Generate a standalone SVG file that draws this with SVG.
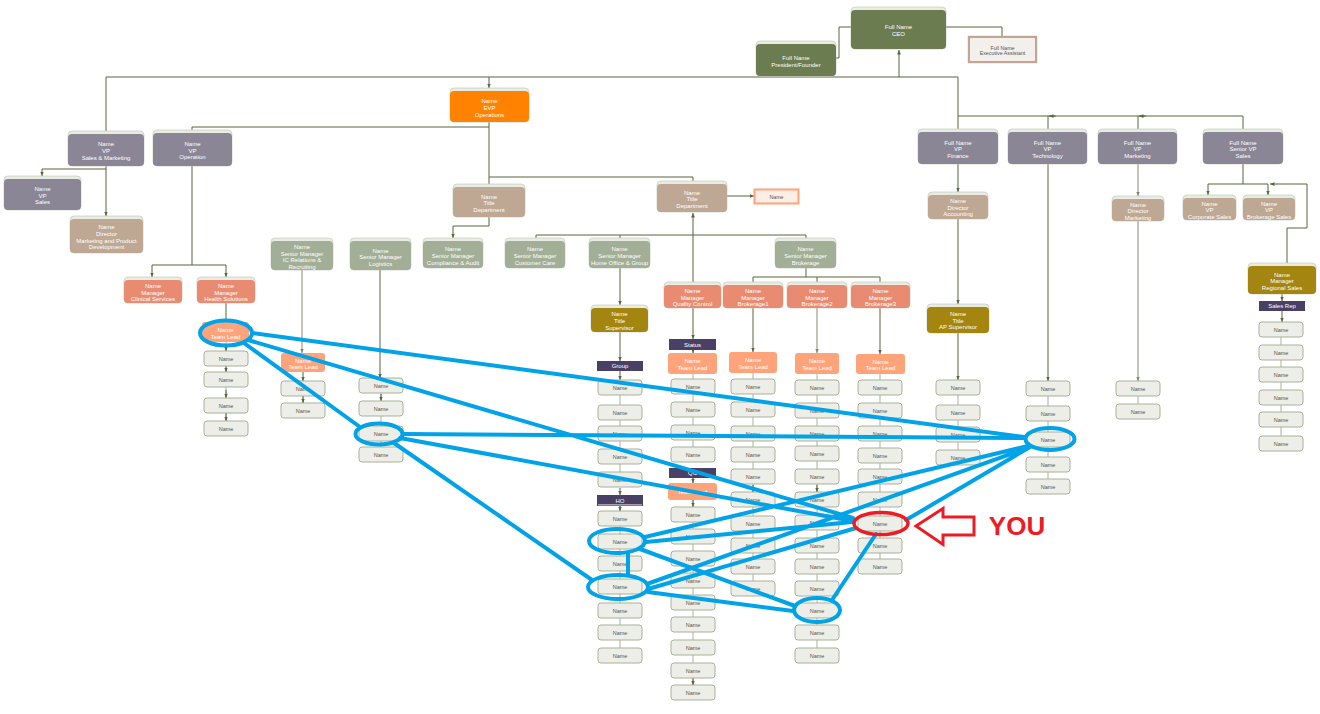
<svg xmlns="http://www.w3.org/2000/svg" width="1320" height="714" viewBox="0 0 1320 714">
<style>
text{font-family:"Liberation Sans",Arial,sans-serif;text-anchor:middle}
.t{font-size:6px;fill:#fff}
.td{font-size:5.3px;fill:#555}
.tn{font-size:5.5px;fill:#555}
.cap{fill:#e9ece2;stroke:#c6cbbb;stroke-width:0.7}
.dg{fill:#6b7c51}.vp{fill:#8a8696}.tan{fill:#bea793}.sg{fill:#a2ae96}.sm{fill:#e88b71}
.tl{fill:#ffa37b}.ol{fill:#a3850f}.ev{fill:#ff8300}.lb{fill:#4a3f65}
.nm{fill:#eceee7;stroke:#a9b29a;stroke-width:1}
.c{stroke:#56663d;stroke-width:1;fill:none}
.cl{stroke:#a7af9b;stroke-width:1.4;fill:none}
.cv{stroke:#b9bfad;stroke-width:1.2;fill:none}
.bl{stroke:#00a2e8;stroke-width:4;fill:none;stroke-linecap:round}
</style>
<defs>
<marker id="a" viewBox="0 0 6 6" refX="6" refY="3" markerWidth="4.5" markerHeight="4.5" orient="auto" markerUnits="userSpaceOnUse"><path d="M0,0.5 L6,3 L0,5.5 z" fill="#56663d"/></marker>
<marker id="al" viewBox="0 0 6 6" refX="6" refY="3" markerWidth="4.5" markerHeight="4.5" orient="auto" markerUnits="userSpaceOnUse"><path d="M0,0.5 L6,3 L0,5.5 z" fill="#7d8a6a"/></marker>
</defs>
<rect width="1320" height="714" fill="#fff"/>

<g id="connectors">
<path class="c" d="M836,58 H839 V27 H851"/>
<path class="c" d="M946,27 H1002 V37"/>
<path class="c" d="M899,77 V50" marker-end="url(#a)"/>
<path class="c" d="M106,131 V77 H958 V116 H1243 V129"/>
<path class="c" d="M489,77 V88" marker-end="url(#a)"/>
<path class="c" d="M958,116 V129"/>
<path class="c" d="M1048,116 V129"/>
<path class="c" d="M1138,116 V129"/>
<path class="c" d="M1056,116 H1049" marker-end="url(#a)"/>
<path class="c" d="M1146,116 H1139" marker-end="url(#a)"/>
<path class="c" d="M106,166 V216" marker-end="url(#a)"/>
<path class="c" d="M106,169 H42 V176" marker-end="url(#a)"/>
<path class="c" d="M138,234 H143" marker-end="url(#a)"/>
<path class="c" d="M489,122 V184"/>
<path class="c" d="M489,127 H192 V130"/>
<path class="c" d="M489,177 H693 V181"/>
<path class="c" d="M489,217 V226 H453 V238" marker-end="url(#a)"/>
<path class="c" d="M727,196 H754" marker-end="url(#a)"/>
<path class="c" d="M693,282 V213" marker-end="url(#a)"/>
<path class="c" d="M536,238 V235 H806 V238"/>
<path class="c" d="M620,235 V238"/>
<path class="c" d="M192,166 V265"/>
<path class="c" d="M152,265 H226"/>
<path class="c" d="M152,265 V277" marker-end="url(#a)"/>
<path class="c" d="M226,265 V277" marker-end="url(#a)"/>
<path class="c" d="M226,303 V322"/>
<path class="c" d="M806,268 V277"/>
<path class="c" d="M753,277 H880"/>
<path class="c" d="M753,277 V282"/>
<path class="c" d="M817,277 V282"/>
<path class="c" d="M880,277 V282"/>
<path class="c" d="M620,268 V305" marker-end="url(#a)"/>
<path class="c" d="M620,332 V361" marker-end="url(#a)"/>
<path class="c" d="M620,371 V380" marker-end="url(#a)"/>
<path class="c" d="M693,308 V339" marker-end="url(#a)"/>
<path class="c" d="M693,350 V353" marker-end="url(#a)"/>
<path class="c" d="M753,308 V352" marker-end="url(#a)"/>
<path class="cl" d="M817,308 V353" marker-end="url(#al)"/>
<path class="c" d="M880,308 V354" marker-end="url(#a)"/>
<path class="c" d="M958,164 V192" marker-end="url(#a)"/>
<path class="c" d="M958,219 V304" marker-end="url(#a)"/>
<path class="c" d="M958,333 V380" marker-end="url(#a)"/>
<path class="c" d="M1048,164 V381" marker-end="url(#a)"/>
<path class="cl" d="M1138,164 V196" marker-end="url(#al)"/>
<path class="cl" d="M1138,221 V381" marker-end="url(#al)"/>
<path class="c" d="M1243,164 V184"/>
<path class="c" d="M1208,184 H1268"/>
<path class="c" d="M1208,184 V195" marker-end="url(#a)"/>
<path class="c" d="M1268,184 V195" marker-end="url(#a)"/>
<path class="c" d="M1287,263 V228 H1307 V184 H1270" marker-end="url(#a)"/>
<path class="c" d="M1282,294 V301" marker-end="url(#a)"/>
<path class="c" d="M1282,311 V322" marker-end="url(#a)"/>
<path class="cl" d="M302,270 V353" marker-end="url(#al)"/>
<path class="c" d="M380,270 V378" marker-end="url(#a)"/>
<path class="c" d="M303,372 V381" marker-end="url(#a)"/>
<path class="cv" d="M226,342 V436 M303,381 V418 M381,393 V462 M620,380 V487 M620,495 V663 M693,374 V462 M693,468 V700 M753,373 V596 M817,374 V663 M880,374 V574 M958,395 V465 M1048,396 V494 M1138,396 V404 M1281,337 V451"/>
<path class="c" d="M226,345 V351" marker-end="url(#a)"/>
<path class="c" d="M226,366 V372" marker-end="url(#a)"/>
<path class="c" d="M226,390 V398" marker-end="url(#a)"/>
<path class="c" d="M226,413 V421" marker-end="url(#a)"/>
<path class="c" d="M303,396 V403" marker-end="url(#a)"/>
<path class="c" d="M381,394 V401" marker-end="url(#a)"/>
<path class="c" d="M620,488 V495" marker-end="url(#a)"/>
<path class="c" d="M620,506 V511" marker-end="url(#a)"/>
<path class="c" d="M693,478 V483" marker-end="url(#a)"/>
<path class="c" d="M693,500 V507" marker-end="url(#a)"/>
<path class="c" d="M693,678 V685" marker-end="url(#a)"/>
<path class="c" d="M753,485 V492" marker-end="url(#a)"/>
<path class="c" d="M817,485 V492" marker-end="url(#a)"/>
</g>

<g id="ceo"><rect class="cap" x="851" y="7" width="95" height="42" rx="4"/><rect class="dg" x="851" y="10" width="95" height="39" rx="4"/><text class="t" x="898.5" y="29.2">Full Name<tspan x="898.5" dy="6.8">CEO</tspan></text></g>
<g id="president"><rect class="cap" x="756" y="41" width="80" height="35" rx="4"/><rect class="dg" x="756" y="44" width="80" height="32" rx="4"/><text class="t" x="796" y="60">Full Name<tspan x="796" dy="6.8">President/Founder</tspan></text></g>
<g id="exec-assistant"><rect x="969" y="37" width="67" height="25" fill="#f3efeb" stroke="#c2a592" stroke-width="2.4"/><rect x="970.8" y="38.8" width="63.4" height="21.4" fill="none" stroke="#fff" stroke-width="0.6"/><text class="td" x="1002.5" y="49.5">Full Name<tspan x="1002.5" dy="5.6">Executive Assistant</tspan></text></g>
<g id="evp"><rect class="cap" x="450" y="88" width="79" height="34" rx="4"/><rect class="ev" x="450" y="91" width="79" height="31" rx="4"/><text class="t" x="489.5" y="103.3">Name<tspan x="489.5" dy="6.8">EVP</tspan><tspan x="489.5" dy="6.8">Operations</tspan></text></g>

<g id="vp-sales-marketing"><rect class="cap" x="68" y="131" width="76" height="35" rx="4"/><rect class="vp" x="68" y="134" width="76" height="32" rx="4"/><text class="t" x="106" y="146.3">Name<tspan x="106" dy="6.8">VP</tspan><tspan x="106" dy="6.8">Sales &amp; Marketing</tspan></text></g>
<g id="vp-operation"><rect class="cap" x="153" y="130" width="79" height="36" rx="4"/><rect class="vp" x="153" y="133" width="79" height="33" rx="4"/><text class="t" x="192.5" y="145.8">Name<tspan x="192.5" dy="6.8">VP</tspan><tspan x="192.5" dy="6.8">Operation</tspan></text></g>
<g id="vp-sales"><rect class="cap" x="4" y="176" width="77" height="34" rx="4"/><rect class="vp" x="4" y="179" width="77" height="31" rx="4"/><text class="t" x="42.5" y="190.8">Name<tspan x="42.5" dy="6.8">VP</tspan><tspan x="42.5" dy="6.8">Sales</tspan></text></g>
<g id="dir-marketing-product"><rect class="cap" x="70" y="216" width="73" height="37" rx="4"/><rect class="tan" x="70" y="219" width="73" height="34" rx="4"/><text class="t" x="106.5" y="228.9">Name<tspan x="106.5" dy="6.8">Director</tspan><tspan x="106.5" dy="6.8">Marketing and Product</tspan><tspan x="106.5" dy="6.8">Development</tspan></text></g>
<g id="title-dept-1"><rect class="cap" x="453" y="184" width="72" height="33" rx="4"/><rect class="tan" x="453" y="187" width="72" height="30" rx="4"/><text class="t" x="489" y="198.5">Name<tspan x="489" dy="6.8">Title</tspan><tspan x="489" dy="6.8">Department</tspan></text></g>
<g id="title-dept-2"><rect class="cap" x="657" y="181" width="70" height="31" rx="4"/><rect class="tan" x="657" y="184" width="70" height="28" rx="4"/><text class="t" x="692" y="194.5">Name<tspan x="692" dy="6.8">Title</tspan><tspan x="692" dy="6.8">Department</tspan></text></g>
<g id="name-dept"><rect x="754.5" y="189.5" width="44" height="14" fill="#fdeee6" stroke="#ffa37b" stroke-width="2"/><text class="td" x="776.5" y="198.5" fill="#7a3a28">Name</text></g>

<g id="vp-finance"><rect class="cap" x="918" y="129" width="80" height="35" rx="4"/><rect class="vp" x="918" y="132" width="80" height="32" rx="4"/><text class="t" x="958" y="144.5">Full Name<tspan x="958" dy="6.8">VP</tspan><tspan x="958" dy="6.8">Finance</tspan></text></g>
<g id="vp-technology"><rect class="cap" x="1008" y="129" width="79" height="35" rx="4"/><rect class="vp" x="1008" y="132" width="79" height="32" rx="4"/><text class="t" x="1047.5" y="144.5">Full Name<tspan x="1047.5" dy="6.8">VP</tspan><tspan x="1047.5" dy="6.8">Technology</tspan></text></g>
<g id="vp-marketing"><rect class="cap" x="1098" y="129" width="79" height="35" rx="4"/><rect class="vp" x="1098" y="132" width="79" height="32" rx="4"/><text class="t" x="1137.5" y="144.5">Full Name<tspan x="1137.5" dy="6.8">VP</tspan><tspan x="1137.5" dy="6.8">Marketing</tspan></text></g>
<g id="svp-sales"><rect class="cap" x="1203" y="129" width="80" height="35" rx="4"/><rect class="vp" x="1203" y="132" width="80" height="32" rx="4"/><text class="t" x="1243" y="144.5">Full Name<tspan x="1243" dy="6.8">Senior VP</tspan><tspan x="1243" dy="6.8">Sales</tspan></text></g>
<g id="dir-accounting"><rect class="cap" x="928" y="192" width="60" height="27" rx="4"/><rect class="tan" x="928" y="195" width="60" height="24" rx="4"/><text class="t" x="958" y="203">Name<tspan x="958" dy="6.6">Director</tspan><tspan x="958" dy="6.6">Accounting</tspan></text></g>
<g id="dir-marketing"><rect class="cap" x="1112" y="196" width="52" height="25" rx="4"/><rect class="tan" x="1112" y="199" width="52" height="22" rx="4"/><text class="t" x="1138" y="206.8">Name<tspan x="1138" dy="6.6">Director</tspan><tspan x="1138" dy="6.6">Marketing</tspan></text></g>
<g id="vp-corporate-sales"><rect class="cap" x="1183" y="195" width="53" height="25" rx="4"/><rect class="tan" x="1183" y="198" width="53" height="22" rx="4"/><text class="t" x="1209.5" y="205.8">Name<tspan x="1209.5" dy="6.6">VP</tspan><tspan x="1209.5" dy="6.6">Corporate Sales</tspan></text></g>
<g id="vp-brokerage-sales"><rect class="cap" x="1243" y="195" width="52" height="25" rx="4"/><rect class="tan" x="1243" y="198" width="52" height="22" rx="4"/><text class="t" x="1269" y="205.8">Name<tspan x="1269" dy="6.6">VP</tspan><tspan x="1269" dy="6.6">Brokerage Sales</tspan></text></g>

<g id="sm-ic-relations"><rect class="cap" x="271" y="238" width="62" height="32" rx="4"/><rect class="sg" x="271" y="241" width="62" height="29" rx="4"/><text class="t" x="302" y="248.8">Name<tspan x="302" dy="6.8">Senior Manager</tspan><tspan x="302" dy="6.8">IC Relations &amp;</tspan><tspan x="302" dy="6.8">Recruiting</tspan></text></g>
<g id="sm-logistics"><rect class="cap" x="350" y="238" width="61" height="32" rx="4"/><rect class="sg" x="350" y="241" width="61" height="29" rx="4"/><text class="t" x="380.5" y="252.5">Name<tspan x="380.5" dy="6.8">Senior Manager</tspan><tspan x="380.5" dy="6.8">Logistics</tspan></text></g>
<g id="sm-compliance"><rect class="cap" x="423" y="238" width="60" height="30" rx="4"/><rect class="sg" x="423" y="241" width="60" height="27" rx="4"/><text class="t" x="453" y="251">Name<tspan x="453" dy="6.8">Senior Manager</tspan><tspan x="453" dy="6.8">Compliance &amp; Audit</tspan></text></g>
<g id="sm-customer-care"><rect class="cap" x="505" y="238" width="60" height="30" rx="4"/><rect class="sg" x="505" y="241" width="60" height="27" rx="4"/><text class="t" x="535" y="251">Name<tspan x="535" dy="6.8">Senior Manager</tspan><tspan x="535" dy="6.8">Customer Care</tspan></text></g>
<g id="sm-home-office"><rect class="cap" x="589" y="238" width="61" height="30" rx="4"/><rect class="sg" x="589" y="241" width="61" height="27" rx="4"/><text class="t" x="619.5" y="251">Name<tspan x="619.5" dy="6.8">Senior Manager</tspan><tspan x="619.5" dy="6.8">Home Office &amp; Group</tspan></text></g>
<g id="sm-brokerage"><rect class="cap" x="775" y="238" width="61" height="30" rx="4"/><rect class="sg" x="775" y="241" width="61" height="27" rx="4"/><text class="t" x="805.5" y="251">Name<tspan x="805.5" dy="6.8">Senior Manager</tspan><tspan x="805.5" dy="6.8">Brokerage</tspan></text></g>

<g id="mgr-clinical"><rect class="cap" x="124" y="277" width="58" height="26" rx="4"/><rect class="sm" x="124" y="280" width="58" height="23" rx="4"/><text class="t" x="153" y="288">Name<tspan x="153" dy="6.7">Manager</tspan><tspan x="153" dy="6.7">Clinical Services</tspan></text></g>
<g id="mgr-health"><rect class="cap" x="197" y="277" width="58" height="26" rx="4"/><rect class="sm" x="197" y="280" width="58" height="23" rx="4"/><text class="t" x="226" y="288">Name<tspan x="226" dy="6.7">Manager</tspan><tspan x="226" dy="6.7">Health Solutions</tspan></text></g>
<g id="mgr-quality"><rect class="cap" x="664" y="282" width="57" height="26" rx="4"/><rect class="sm" x="664" y="285" width="57" height="23" rx="4"/><text class="t" x="692.5" y="293">Name<tspan x="692.5" dy="6.7">Manager</tspan><tspan x="692.5" dy="6.7">Quality Control</tspan></text></g>
<g id="mgr-brokerage1"><rect class="cap" x="723" y="282" width="60" height="26" rx="4"/><rect class="sm" x="723" y="285" width="60" height="23" rx="4"/><text class="t" x="753" y="293">Name<tspan x="753" dy="6.7">Manager</tspan><tspan x="753" dy="6.7">Brokerage1</tspan></text></g>
<g id="mgr-brokerage2"><rect class="cap" x="787" y="282" width="60" height="26" rx="4"/><rect class="sm" x="787" y="285" width="60" height="23" rx="4"/><text class="t" x="817" y="293">Name<tspan x="817" dy="6.7">Manager</tspan><tspan x="817" dy="6.7">Brokerage2</tspan></text></g>
<g id="mgr-brokerage3"><rect class="cap" x="851" y="282" width="59" height="26" rx="4"/><rect class="sm" x="851" y="285" width="59" height="23" rx="4"/><text class="t" x="880.5" y="293">Name<tspan x="880.5" dy="6.7">Manager</tspan><tspan x="880.5" dy="6.7">Brokerage3</tspan></text></g>
<g id="sup-home-office"><rect class="cap" x="591" y="305" width="57" height="27" rx="4"/><rect class="ol" x="591" y="308" width="57" height="24" rx="4"/><text class="t" x="619.5" y="316.3">Name<tspan x="619.5" dy="6.8">Title</tspan><tspan x="619.5" dy="6.8">Supervisor</tspan></text></g>
<g id="sup-ap"><rect class="cap" x="927" y="304" width="62" height="29" rx="4"/><rect class="ol" x="927" y="307" width="62" height="26" rx="4"/><text class="t" x="958" y="315.8">Name<tspan x="958" dy="6.8">Title</tspan><tspan x="958" dy="6.8">AP Supervisor</tspan></text></g>
<g id="mgr-regional"><rect class="cap" x="1248" y="263" width="68" height="31" rx="4"/><rect class="ol" x="1248" y="266" width="68" height="28" rx="4"/><text class="t" x="1282" y="276.8">Name<tspan x="1282" dy="6.6">Manager</tspan><tspan x="1282" dy="6.6">Regional Sales</tspan></text></g>

<g id="lbl-status"><rect class="lb" x="669" y="339" width="47" height="11"/><text class="t" x="692.5" y="346.6">Status</text></g>
<g id="lbl-group"><rect class="lb" x="597" y="361" width="46" height="10"/><text class="t" x="620" y="368.2">Group</text></g>
<g id="lbl-qc"><rect class="lb" x="669" y="468" width="47" height="10"/><text class="t" x="692.5" y="475.2">QC</text></g>
<g id="lbl-ho"><rect class="lb" x="597" y="495" width="46" height="11"/><rect x="598" y="504.5" width="44" height="0.8" fill="#fff"/><text class="t" x="620" y="502.6">HO</text></g>
<g id="lbl-sales-rep"><rect class="lb" x="1259" y="301" width="46" height="10"/><text class="t" x="1282" y="308.2">Sales Rep</text></g>

<g id="tl-health"><rect class="tl" x="202" y="322" width="47" height="20" rx="3"/><text class="t" x="225.5" y="332">Name<tspan x="225.5" dy="6.5">Team Lead</tspan></text></g>
<g id="tl-ic"><rect class="tl" x="281" y="353" width="44" height="19" rx="3"/><text class="t" x="303" y="362.5">Name<tspan x="303" dy="6.5">Team Lead</tspan></text></g>
<g id="tl-quality"><rect class="tl" x="668" y="353" width="49" height="21" rx="3"/><text class="t" x="692.5" y="363">Name<tspan x="692.5" dy="6.8">Team Lead</tspan></text></g>
<g id="tl-qc"><rect class="tl" x="668" y="483" width="49" height="17" rx="3"/><text class="t" x="692.5" y="494">Team Lead</text></g>
<g id="tl-brokerage1"><rect class="tl" x="729" y="352" width="48" height="21" rx="3"/><text class="t" x="753" y="362">Name<tspan x="753" dy="6.8">Team Lead</tspan></text></g>
<g id="tl-brokerage2"><rect class="tl" x="795" y="353" width="44" height="21" rx="3"/><text class="t" x="817" y="363">Name<tspan x="817" dy="6.8">Team Lead</tspan></text></g>
<g id="tl-brokerage3"><rect class="tl" x="856" y="354" width="49" height="20" rx="3"/><text class="t" x="880.5" y="363.5">Name<tspan x="880.5" dy="6.8">Team Lead</tspan></text></g>

<g id="names-health">
<g id="nh1"><rect class="nm" x="204" y="351" width="44" height="15" rx="3"/><text class="tn" x="226" y="361">Name</text></g>
<g id="nh2"><rect class="nm" x="204" y="372" width="44" height="15" rx="3"/><text class="tn" x="226" y="382">Name</text></g>
<g id="nh3"><rect class="nm" x="204" y="398" width="44" height="15" rx="3"/><text class="tn" x="226" y="408">Name</text></g>
<g id="nh4"><rect class="nm" x="204" y="421" width="44" height="15" rx="3"/><text class="tn" x="226" y="431">Name</text></g>
</g>
<g id="names-ic">
<g id="ni1"><rect class="nm" x="281" y="381" width="44" height="15" rx="3"/><text class="tn" x="303" y="391">Name</text></g>
<g id="ni2"><rect class="nm" x="281" y="403" width="44" height="15" rx="3"/><text class="tn" x="303" y="413">Name</text></g>
</g>
<g id="names-logistics">
<g id="nl1"><rect class="nm" x="359" y="378" width="44" height="15" rx="3"/><text class="tn" x="381" y="388">Name</text></g>
<g id="nl2"><rect class="nm" x="359" y="401" width="44" height="15" rx="3"/><text class="tn" x="381" y="411">Name</text></g>
<g id="nl3"><rect class="nm" x="359" y="426" width="44" height="15" rx="3"/><text class="tn" x="381" y="436">Name</text></g>
<g id="nl4"><rect class="nm" x="359" y="447" width="44" height="15" rx="3"/><text class="tn" x="381" y="457">Name</text></g>
</g>
<g id="names-group">
<g id="ng1"><rect class="nm" x="598" y="380" width="44" height="15" rx="3"/><text class="tn" x="620" y="390">Name</text></g>
<g id="ng2"><rect class="nm" x="598" y="405" width="44" height="15" rx="3"/><text class="tn" x="620" y="415">Name</text></g>
<g id="ng3"><rect class="nm" x="598" y="426" width="44" height="15" rx="3"/><text class="tn" x="620" y="436">Name</text></g>
<g id="ng4"><rect class="nm" x="598" y="449" width="44" height="15" rx="3"/><text class="tn" x="620" y="459">Name</text></g>
<g id="ng5"><rect class="nm" x="598" y="472" width="44" height="15" rx="3"/><text class="tn" x="620" y="482">Name</text></g>
</g>
<g id="names-ho">
<g id="nho1"><rect class="nm" x="598" y="511" width="44" height="15" rx="3"/><text class="tn" x="620" y="521">Name</text></g>
<g id="nho2"><rect class="nm" x="598" y="534" width="44" height="15" rx="3"/><text class="tn" x="620" y="544">Name</text></g>
<g id="nho3"><rect class="nm" x="598" y="556" width="44" height="15" rx="3"/><text class="tn" x="620" y="566">Name</text></g>
<g id="nho4"><rect class="nm" x="598" y="579" width="44" height="15" rx="3"/><text class="tn" x="620" y="589">Name</text></g>
<g id="nho5"><rect class="nm" x="598" y="603" width="44" height="15" rx="3"/><text class="tn" x="620" y="613">Name</text></g>
<g id="nho6"><rect class="nm" x="598" y="625" width="44" height="15" rx="3"/><text class="tn" x="620" y="635">Name</text></g>
<g id="nho7"><rect class="nm" x="598" y="648" width="44" height="15" rx="3"/><text class="tn" x="620" y="658">Name</text></g>
</g>
<g id="names-quality">
<g id="nq1"><rect class="nm" x="671" y="379" width="44" height="15" rx="3"/><text class="tn" x="693" y="389">Name</text></g>
<g id="nq2"><rect class="nm" x="671" y="402" width="44" height="15" rx="3"/><text class="tn" x="693" y="412">Name</text></g>
<g id="nq3"><rect class="nm" x="671" y="425" width="44" height="15" rx="3"/><text class="tn" x="693" y="435">Name</text></g>
<g id="nq4"><rect class="nm" x="671" y="447" width="44" height="15" rx="3"/><text class="tn" x="693" y="457">Name</text></g>
</g>
<g id="names-qc">
<g id="nqc1"><rect class="nm" x="671" y="507" width="44" height="15" rx="3"/><text class="tn" x="693" y="517">Name</text></g>
<g id="nqc2"><rect class="nm" x="671" y="529" width="44" height="15" rx="3"/><text class="tn" x="693" y="539">Name</text></g>
<g id="nqc3"><rect class="nm" x="671" y="551" width="44" height="15" rx="3"/><text class="tn" x="693" y="561">Name</text></g>
<g id="nqc4"><rect class="nm" x="671" y="573" width="44" height="15" rx="3"/><text class="tn" x="693" y="583">Name</text></g>
<g id="nqc5"><rect class="nm" x="671" y="595" width="44" height="15" rx="3"/><text class="tn" x="693" y="605">Name</text></g>
<g id="nqc6"><rect class="nm" x="671" y="617" width="44" height="15" rx="3"/><text class="tn" x="693" y="627">Name</text></g>
<g id="nqc7"><rect class="nm" x="671" y="640" width="44" height="15" rx="3"/><text class="tn" x="693" y="650">Name</text></g>
<g id="nqc8"><rect class="nm" x="671" y="663" width="44" height="15" rx="3"/><text class="tn" x="693" y="673">Name</text></g>
<g id="nqc9"><rect class="nm" x="671" y="685" width="44" height="15" rx="3"/><text class="tn" x="693" y="695">Name</text></g>
</g>
<g id="names-b1">
<g id="nb1-1"><rect class="nm" x="731" y="379" width="44" height="15" rx="3"/><text class="tn" x="753" y="389">Name</text></g>
<g id="nb1-2"><rect class="nm" x="731" y="402" width="44" height="15" rx="3"/><text class="tn" x="753" y="412">Name</text></g>
<g id="nb1-3"><rect class="nm" x="731" y="426" width="44" height="15" rx="3"/><text class="tn" x="753" y="436">Name</text></g>
<g id="nb1-4"><rect class="nm" x="731" y="447" width="44" height="15" rx="3"/><text class="tn" x="753" y="457">Name</text></g>
<g id="nb1-5"><rect class="nm" x="731" y="469" width="44" height="15" rx="3"/><text class="tn" x="753" y="479">Name</text></g>
<g id="nb1-6"><rect class="nm" x="731" y="492" width="44" height="15" rx="3"/><text class="tn" x="753" y="502">Name</text></g>
<g id="nb1-7"><rect class="nm" x="731" y="516" width="44" height="15" rx="3"/><text class="tn" x="753" y="526">Name</text></g>
<g id="nb1-8"><rect class="nm" x="731" y="538" width="44" height="15" rx="3"/><text class="tn" x="753" y="548">Name</text></g>
<g id="nb1-9"><rect class="nm" x="731" y="559" width="44" height="15" rx="3"/><text class="tn" x="753" y="569">Name</text></g>
<g id="nb1-10"><rect class="nm" x="731" y="581" width="44" height="15" rx="3"/><text class="tn" x="753" y="591">Name</text></g>
</g>
<g id="names-b2">
<g id="nb2-1"><rect class="nm" x="795" y="380" width="44" height="15" rx="3"/><text class="tn" x="817" y="390">Name</text></g>
<g id="nb2-2"><rect class="nm" x="795" y="403" width="44" height="15" rx="3"/><text class="tn" x="817" y="413">Name</text></g>
<g id="nb2-3"><rect class="nm" x="795" y="426" width="44" height="15" rx="3"/><text class="tn" x="817" y="436">Name</text></g>
<g id="nb2-4"><rect class="nm" x="795" y="446" width="44" height="15" rx="3"/><text class="tn" x="817" y="456">Name</text></g>
<g id="nb2-5"><rect class="nm" x="795" y="469" width="44" height="15" rx="3"/><text class="tn" x="817" y="479">Name</text></g>
<g id="nb2-6"><rect class="nm" x="795" y="492" width="44" height="15" rx="3"/><text class="tn" x="817" y="502">Name</text></g>
<g id="nb2-7"><rect class="nm" x="795" y="515" width="44" height="15" rx="3"/><text class="tn" x="817" y="525">Name</text></g>
<g id="nb2-8"><rect class="nm" x="795" y="538" width="44" height="15" rx="3"/><text class="tn" x="817" y="548">Name</text></g>
<g id="nb2-9"><rect class="nm" x="795" y="559" width="44" height="15" rx="3"/><text class="tn" x="817" y="569">Name</text></g>
<g id="nb2-10"><rect class="nm" x="795" y="581" width="44" height="15" rx="3"/><text class="tn" x="817" y="591">Name</text></g>
<g id="nb2-11"><rect class="nm" x="795" y="603" width="44" height="15" rx="3"/><text class="tn" x="817" y="613">Name</text></g>
<g id="nb2-12"><rect class="nm" x="795" y="625" width="44" height="15" rx="3"/><text class="tn" x="817" y="635">Name</text></g>
<g id="nb2-13"><rect class="nm" x="795" y="648" width="44" height="15" rx="3"/><text class="tn" x="817" y="658">Name</text></g>
</g>
<g id="names-b3">
<g id="nb3-1"><rect class="nm" x="858" y="380" width="44" height="15" rx="3"/><text class="tn" x="880" y="390">Name</text></g>
<g id="nb3-2"><rect class="nm" x="858" y="403" width="44" height="15" rx="3"/><text class="tn" x="880" y="413">Name</text></g>
<g id="nb3-3"><rect class="nm" x="858" y="426" width="44" height="15" rx="3"/><text class="tn" x="880" y="436">Name</text></g>
<g id="nb3-4"><rect class="nm" x="858" y="448" width="44" height="15" rx="3"/><text class="tn" x="880" y="458">Name</text></g>
<g id="nb3-5"><rect class="nm" x="858" y="469" width="44" height="15" rx="3"/><text class="tn" x="880" y="479">Name</text></g>
<g id="nb3-6"><rect class="nm" x="858" y="492" width="44" height="15" rx="3"/><text class="tn" x="880" y="502">Name</text></g>
<g id="nb3-7"><rect class="nm" x="858" y="516" width="44" height="15" rx="3"/><text class="tn" x="880" y="526">Name</text></g>
<g id="nb3-8"><rect class="nm" x="858" y="538" width="44" height="15" rx="3"/><text class="tn" x="880" y="548">Name</text></g>
<g id="nb3-9"><rect class="nm" x="858" y="559" width="44" height="15" rx="3"/><text class="tn" x="880" y="569">Name</text></g>
</g>
<g id="names-ap">
<g id="nap1"><rect class="nm" x="936" y="380" width="44" height="15" rx="3"/><text class="tn" x="958" y="390">Name</text></g>
<g id="nap2"><rect class="nm" x="936" y="405" width="44" height="15" rx="3"/><text class="tn" x="958" y="415">Name</text></g>
<g id="nap3"><rect class="nm" x="936" y="427" width="44" height="15" rx="3"/><text class="tn" x="958" y="437">Name</text></g>
<g id="nap4"><rect class="nm" x="936" y="450" width="44" height="15" rx="3"/><text class="tn" x="958" y="460">Name</text></g>
</g>
<g id="names-tech">
<g id="nt1"><rect class="nm" x="1026" y="381" width="44" height="15" rx="3"/><text class="tn" x="1048" y="391">Name</text></g>
<g id="nt2"><rect class="nm" x="1026" y="406" width="44" height="15" rx="3"/><text class="tn" x="1048" y="416">Name</text></g>
<g id="nt3"><rect class="nm" x="1026" y="432" width="44" height="15" rx="3"/><text class="tn" x="1048" y="442">Name</text></g>
<g id="nt4"><rect class="nm" x="1026" y="457" width="44" height="15" rx="3"/><text class="tn" x="1048" y="467">Name</text></g>
<g id="nt5"><rect class="nm" x="1026" y="479" width="44" height="15" rx="3"/><text class="tn" x="1048" y="489">Name</text></g>
</g>
<g id="names-marketing">
<g id="nm1"><rect class="nm" x="1116" y="381" width="44" height="15" rx="3"/><text class="tn" x="1138" y="391">Name</text></g>
<g id="nm2"><rect class="nm" x="1116" y="404" width="44" height="15" rx="3"/><text class="tn" x="1138" y="414">Name</text></g>
</g>
<g id="names-regional">
<g id="nr1"><rect class="nm" x="1259" y="322" width="44" height="15" rx="3"/><text class="tn" x="1281" y="332">Name</text></g>
<g id="nr2"><rect class="nm" x="1259" y="345" width="44" height="15" rx="3"/><text class="tn" x="1281" y="355">Name</text></g>
<g id="nr3"><rect class="nm" x="1259" y="367" width="44" height="15" rx="3"/><text class="tn" x="1281" y="377">Name</text></g>
<g id="nr4"><rect class="nm" x="1259" y="390" width="44" height="15" rx="3"/><text class="tn" x="1281" y="400">Name</text></g>
<g id="nr5"><rect class="nm" x="1259" y="412" width="44" height="15" rx="3"/><text class="tn" x="1281" y="422">Name</text></g>
<g id="nr6"><rect class="nm" x="1259" y="436" width="44" height="15" rx="3"/><text class="tn" x="1281" y="446">Name</text></g>
</g>

<g id="annotations">
<path class="bl" d="M252,333 L1024,437 M248,340 L853,518 M244,343 L360,427 M394,443 L592,580 M403,434 L1024,438 M400,438 L853,521 M646,542 L852,522 M640,549 L795,606 M628,553 L628,574 M645,537 L1028,446 M647,584 L1030,447 M648,589 L856,528 M648,592 L793,611 M876,534 L832,600 M1030,447 L906,520"/>
<ellipse class="bl" cx="226" cy="333" rx="26" ry="12.5"/>
<ellipse class="bl" cx="379" cy="434" rx="23.5" ry="10.5"/>
<ellipse class="bl" cx="1050" cy="439" rx="24.5" ry="11"/>
<ellipse class="bl" cx="617" cy="541" rx="28" ry="12"/>
<ellipse class="bl" cx="618" cy="587" rx="30" ry="12"/>
<ellipse class="bl" cx="817" cy="610" rx="23" ry="12"/>
<ellipse cx="881" cy="523.5" rx="27" ry="11" fill="none" stroke="#ed1c24" stroke-width="3.5"/>
<polygon points="916,526 943,508.5 943,517 974,517 974,535 943,535 943,544.5" fill="#fff" stroke="#ed1c24" stroke-width="3" stroke-linejoin="miter"/>
<text x="1017" y="535" font-size="26" font-weight="bold" fill="#ed1c24">YOU</text>
</g>
</svg>
